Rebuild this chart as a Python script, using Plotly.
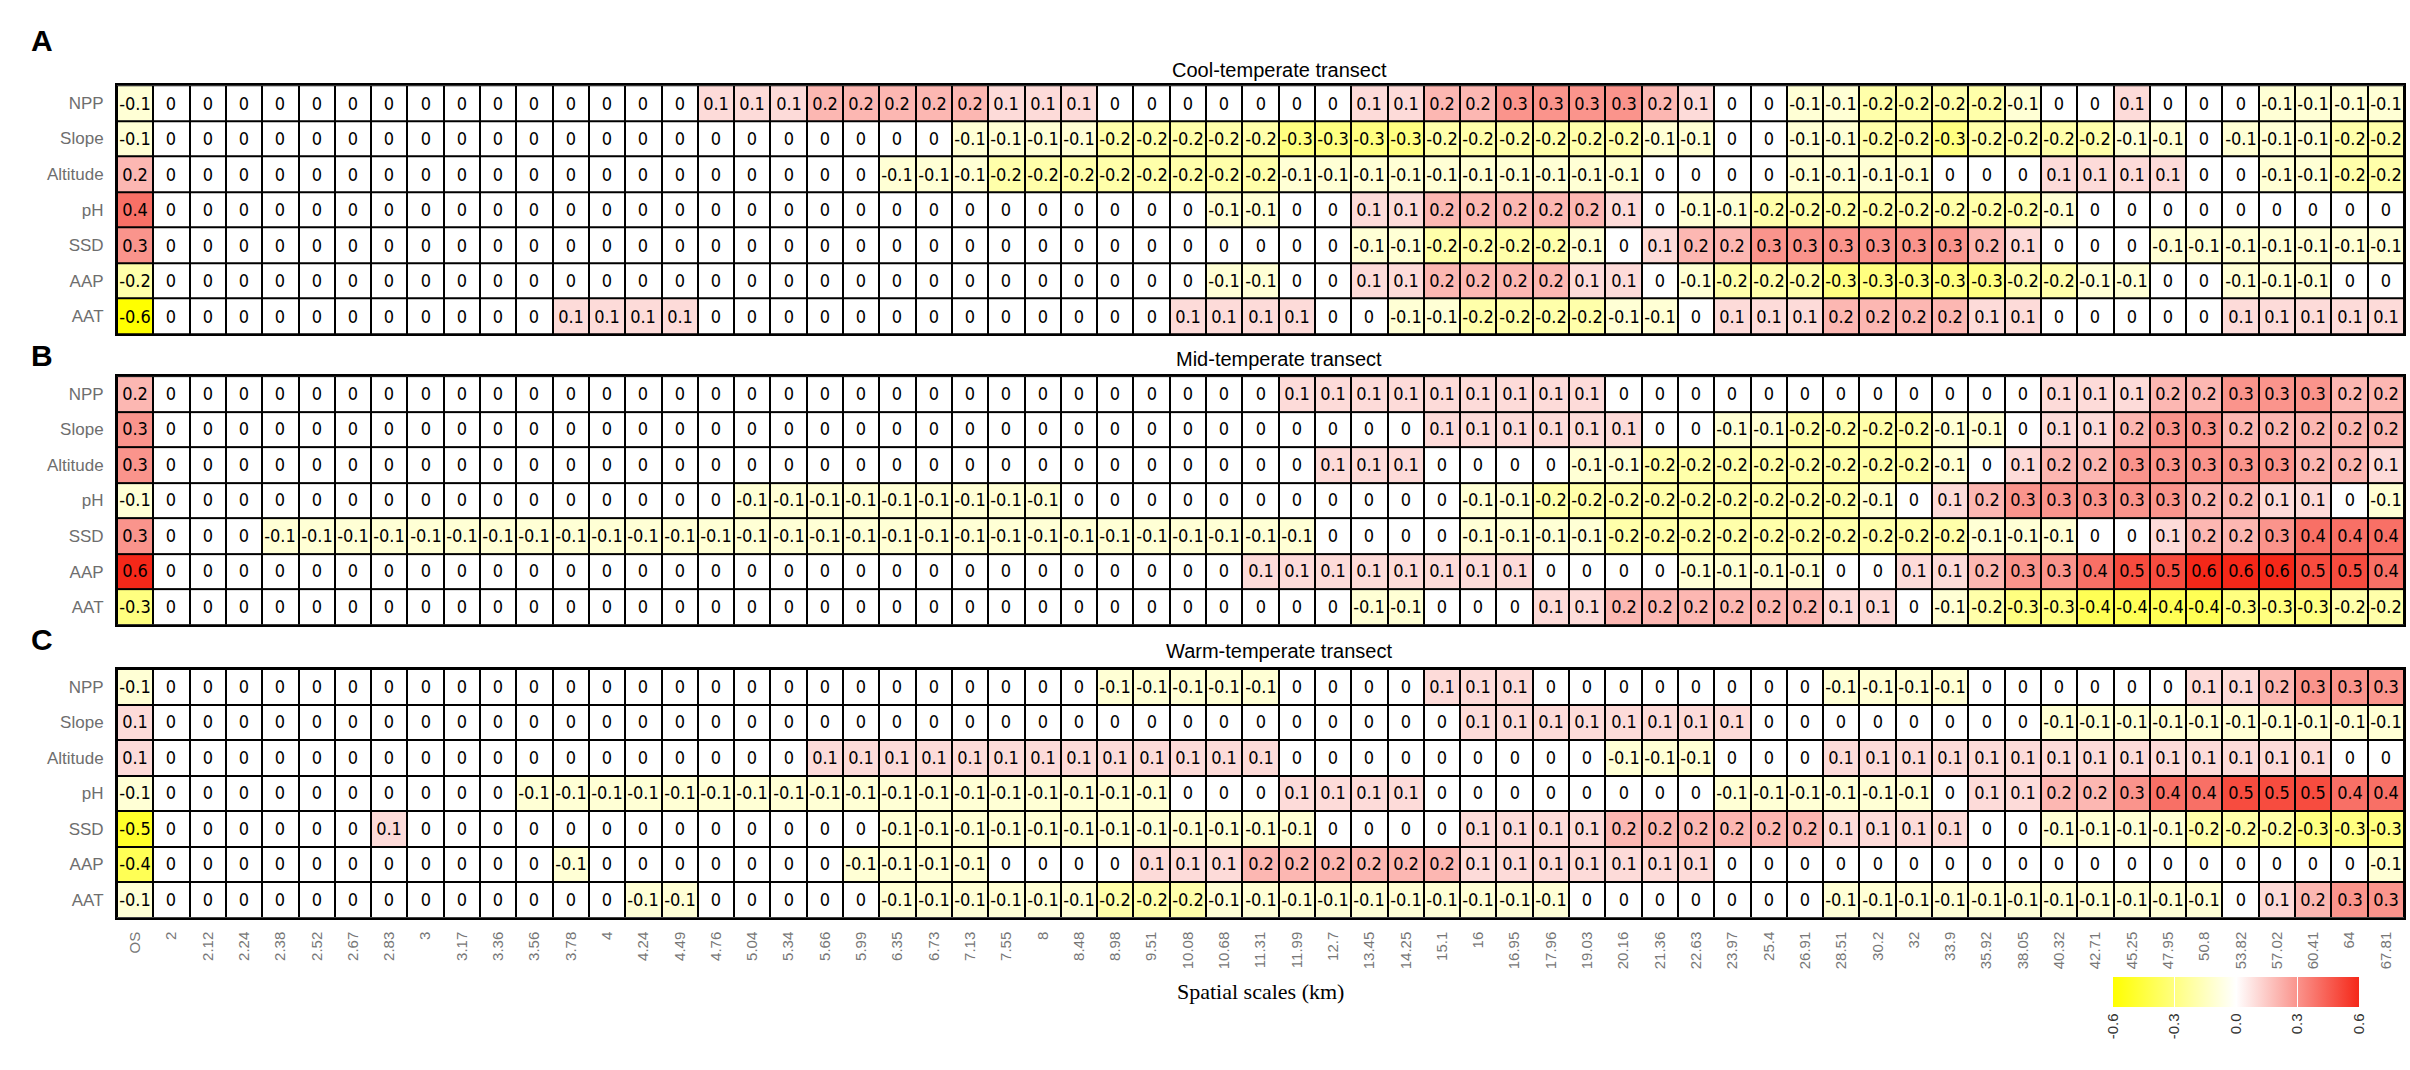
import plotly.graph_objects as go

scales = ["OS", "2", "2.12", "2.24", "2.38", "2.52", "2.67", "2.83", "3", "3.17",
          "3.36", "3.56", "3.78", "4", "4.24", "4.49", "4.76", "5.04", "5.34", "5.66",
          "5.99", "6.35", "6.73", "7.13", "7.55", "8", "8.48", "8.98", "9.51", "10.08",
          "10.68", "11.31", "11.99", "12.7", "13.45", "14.25", "15.1", "16", "16.95", "17.96",
          "19.03", "20.16", "21.36", "22.63", "23.97", "25.4", "26.91", "28.51", "30.2", "32",
          "33.9", "35.92", "38.05", "40.32", "42.71", "45.25", "47.95", "50.8", "53.82", "57.02",
          "60.41", "64", "67.81"]
variables = ["NPP", "Slope", "Altitude", "pH", "SSD", "AAP", "AAT"]

# cool-temperate transect
cool_npp = [
    -0.1, 0, 0, 0, 0, 0, 0, 0, 0, 0,
    0, 0, 0, 0, 0, 0, 0.1, 0.1, 0.1, 0.2,
    0.2, 0.2, 0.2, 0.2, 0.1, 0.1, 0.1, 0, 0, 0,
    0, 0, 0, 0, 0.1, 0.1, 0.2, 0.2, 0.3, 0.3,
    0.3, 0.3, 0.2, 0.1, 0, 0, -0.1, -0.1, -0.2, -0.2,
    -0.2, -0.2, -0.1, 0, 0, 0.1, 0, 0, 0, -0.1,
    -0.1, -0.1, -0.1]
cool_slope = [
    -0.1, 0, 0, 0, 0, 0, 0, 0, 0, 0,
    0, 0, 0, 0, 0, 0, 0, 0, 0, 0,
    0, 0, 0, -0.1, -0.1, -0.1, -0.1, -0.2, -0.2, -0.2,
    -0.2, -0.2, -0.3, -0.3, -0.3, -0.3, -0.2, -0.2, -0.2, -0.2,
    -0.2, -0.2, -0.1, -0.1, 0, 0, -0.1, -0.1, -0.2, -0.2,
    -0.3, -0.2, -0.2, -0.2, -0.2, -0.1, -0.1, 0, -0.1, -0.1,
    -0.1, -0.2, -0.2]
cool_alt = [
    0.2, 0, 0, 0, 0, 0, 0, 0, 0, 0,
    0, 0, 0, 0, 0, 0, 0, 0, 0, 0,
    0, -0.1, -0.1, -0.1, -0.2, -0.2, -0.2, -0.2, -0.2, -0.2,
    -0.2, -0.2, -0.1, -0.1, -0.1, -0.1, -0.1, -0.1, -0.1, -0.1,
    -0.1, -0.1, 0, 0, 0, 0, -0.1, -0.1, -0.1, -0.1,
    0, 0, 0, 0.1, 0.1, 0.1, 0.1, 0, 0, -0.1,
    -0.1, -0.2, -0.2]
cool_ph = [
    0.4, 0, 0, 0, 0, 0, 0, 0, 0, 0,
    0, 0, 0, 0, 0, 0, 0, 0, 0, 0,
    0, 0, 0, 0, 0, 0, 0, 0, 0, 0,
    -0.1, -0.1, 0, 0, 0.1, 0.1, 0.2, 0.2, 0.2, 0.2,
    0.2, 0.1, 0, -0.1, -0.1, -0.2, -0.2, -0.2, -0.2, -0.2,
    -0.2, -0.2, -0.2, -0.1, 0, 0, 0, 0, 0, 0,
    0, 0, 0]
cool_ssd = [
    0.3, 0, 0, 0, 0, 0, 0, 0, 0, 0,
    0, 0, 0, 0, 0, 0, 0, 0, 0, 0,
    0, 0, 0, 0, 0, 0, 0, 0, 0, 0,
    0, 0, 0, 0, -0.1, -0.1, -0.2, -0.2, -0.2, -0.2,
    -0.1, 0, 0.1, 0.2, 0.2, 0.3, 0.3, 0.3, 0.3, 0.3,
    0.3, 0.2, 0.1, 0, 0, 0, -0.1, -0.1, -0.1, -0.1,
    -0.1, -0.1, -0.1]
cool_aap = [
    -0.2, 0, 0, 0, 0, 0, 0, 0, 0, 0,
    0, 0, 0, 0, 0, 0, 0, 0, 0, 0,
    0, 0, 0, 0, 0, 0, 0, 0, 0, 0,
    -0.1, -0.1, 0, 0, 0.1, 0.1, 0.2, 0.2, 0.2, 0.2,
    0.1, 0.1, 0, -0.1, -0.2, -0.2, -0.2, -0.3, -0.3, -0.3,
    -0.3, -0.3, -0.2, -0.2, -0.1, -0.1, 0, 0, -0.1, -0.1,
    -0.1, 0, 0]
cool_aat = [
    -0.6, 0, 0, 0, 0, 0, 0, 0, 0, 0,
    0, 0, 0.1, 0.1, 0.1, 0.1, 0, 0, 0, 0,
    0, 0, 0, 0, 0, 0, 0, 0, 0, 0.1,
    0.1, 0.1, 0.1, 0, 0, -0.1, -0.1, -0.2, -0.2, -0.2,
    -0.2, -0.1, -0.1, 0, 0.1, 0.1, 0.1, 0.2, 0.2, 0.2,
    0.2, 0.1, 0.1, 0, 0, 0, 0, 0, 0.1, 0.1,
    0.1, 0.1, 0.1]

# mid-temperate transect
mid_npp = [
    0.2, 0, 0, 0, 0, 0, 0, 0, 0, 0,
    0, 0, 0, 0, 0, 0, 0, 0, 0, 0,
    0, 0, 0, 0, 0, 0, 0, 0, 0, 0,
    0, 0, 0.1, 0.1, 0.1, 0.1, 0.1, 0.1, 0.1, 0.1,
    0.1, 0, 0, 0, 0, 0, 0, 0, 0, 0,
    0, 0, 0, 0.1, 0.1, 0.1, 0.2, 0.2, 0.3, 0.3,
    0.3, 0.2, 0.2]
mid_slope = [
    0.3, 0, 0, 0, 0, 0, 0, 0, 0, 0,
    0, 0, 0, 0, 0, 0, 0, 0, 0, 0,
    0, 0, 0, 0, 0, 0, 0, 0, 0, 0,
    0, 0, 0, 0, 0, 0, 0.1, 0.1, 0.1, 0.1,
    0.1, 0.1, 0, 0, -0.1, -0.1, -0.2, -0.2, -0.2, -0.2,
    -0.1, -0.1, 0, 0.1, 0.1, 0.2, 0.3, 0.3, 0.2, 0.2,
    0.2, 0.2, 0.2]
mid_alt = [
    0.3, 0, 0, 0, 0, 0, 0, 0, 0, 0,
    0, 0, 0, 0, 0, 0, 0, 0, 0, 0,
    0, 0, 0, 0, 0, 0, 0, 0, 0, 0,
    0, 0, 0, 0.1, 0.1, 0.1, 0, 0, 0, 0,
    -0.1, -0.1, -0.2, -0.2, -0.2, -0.2, -0.2, -0.2, -0.2, -0.2,
    -0.1, 0, 0.1, 0.2, 0.2, 0.3, 0.3, 0.3, 0.3, 0.3,
    0.2, 0.2, 0.1]
mid_ph = [
    -0.1, 0, 0, 0, 0, 0, 0, 0, 0, 0,
    0, 0, 0, 0, 0, 0, 0, -0.1, -0.1, -0.1,
    -0.1, -0.1, -0.1, -0.1, -0.1, -0.1, 0, 0, 0, 0,
    0, 0, 0, 0, 0, 0, 0, -0.1, -0.1, -0.2,
    -0.2, -0.2, -0.2, -0.2, -0.2, -0.2, -0.2, -0.2, -0.1, 0,
    0.1, 0.2, 0.3, 0.3, 0.3, 0.3, 0.3, 0.2, 0.2, 0.1,
    0.1, 0, -0.1]
mid_ssd = [
    0.3, 0, 0, 0, -0.1, -0.1, -0.1, -0.1, -0.1, -0.1,
    -0.1, -0.1, -0.1, -0.1, -0.1, -0.1, -0.1, -0.1, -0.1, -0.1,
    -0.1, -0.1, -0.1, -0.1, -0.1, -0.1, -0.1, -0.1, -0.1, -0.1,
    -0.1, -0.1, -0.1, 0, 0, 0, 0, -0.1, -0.1, -0.1,
    -0.1, -0.2, -0.2, -0.2, -0.2, -0.2, -0.2, -0.2, -0.2, -0.2,
    -0.2, -0.1, -0.1, -0.1, 0, 0, 0.1, 0.2, 0.2, 0.3,
    0.4, 0.4, 0.4]
mid_aap = [
    0.6, 0, 0, 0, 0, 0, 0, 0, 0, 0,
    0, 0, 0, 0, 0, 0, 0, 0, 0, 0,
    0, 0, 0, 0, 0, 0, 0, 0, 0, 0,
    0, 0.1, 0.1, 0.1, 0.1, 0.1, 0.1, 0.1, 0.1, 0,
    0, 0, 0, -0.1, -0.1, -0.1, -0.1, 0, 0, 0.1,
    0.1, 0.2, 0.3, 0.3, 0.4, 0.5, 0.5, 0.6, 0.6, 0.6,
    0.5, 0.5, 0.4]
mid_aat = [
    -0.3, 0, 0, 0, 0, 0, 0, 0, 0, 0,
    0, 0, 0, 0, 0, 0, 0, 0, 0, 0,
    0, 0, 0, 0, 0, 0, 0, 0, 0, 0,
    0, 0, 0, 0, -0.1, -0.1, 0, 0, 0, 0.1,
    0.1, 0.2, 0.2, 0.2, 0.2, 0.2, 0.2, 0.1, 0.1, 0,
    -0.1, -0.2, -0.3, -0.3, -0.4, -0.4, -0.4, -0.4, -0.3, -0.3,
    -0.3, -0.2, -0.2]

# warm-temperate transect
warm_npp = [
    -0.1, 0, 0, 0, 0, 0, 0, 0, 0, 0,
    0, 0, 0, 0, 0, 0, 0, 0, 0, 0,
    0, 0, 0, 0, 0, 0, 0, -0.1, -0.1, -0.1,
    -0.1, -0.1, 0, 0, 0, 0, 0.1, 0.1, 0.1, 0,
    0, 0, 0, 0, 0, 0, 0, -0.1, -0.1, -0.1,
    -0.1, 0, 0, 0, 0, 0, 0, 0.1, 0.1, 0.2,
    0.3, 0.3, 0.3]
warm_slope = [
    0.1, 0, 0, 0, 0, 0, 0, 0, 0, 0,
    0, 0, 0, 0, 0, 0, 0, 0, 0, 0,
    0, 0, 0, 0, 0, 0, 0, 0, 0, 0,
    0, 0, 0, 0, 0, 0, 0, 0.1, 0.1, 0.1,
    0.1, 0.1, 0.1, 0.1, 0.1, 0, 0, 0, 0, 0,
    0, 0, 0, -0.1, -0.1, -0.1, -0.1, -0.1, -0.1, -0.1,
    -0.1, -0.1, -0.1]
warm_alt = [
    0.1, 0, 0, 0, 0, 0, 0, 0, 0, 0,
    0, 0, 0, 0, 0, 0, 0, 0, 0, 0.1,
    0.1, 0.1, 0.1, 0.1, 0.1, 0.1, 0.1, 0.1, 0.1, 0.1,
    0.1, 0.1, 0, 0, 0, 0, 0, 0, 0, 0,
    0, -0.1, -0.1, -0.1, 0, 0, 0, 0.1, 0.1, 0.1,
    0.1, 0.1, 0.1, 0.1, 0.1, 0.1, 0.1, 0.1, 0.1, 0.1,
    0.1, 0, 0]
warm_ph = [
    -0.1, 0, 0, 0, 0, 0, 0, 0, 0, 0,
    0, -0.1, -0.1, -0.1, -0.1, -0.1, -0.1, -0.1, -0.1, -0.1,
    -0.1, -0.1, -0.1, -0.1, -0.1, -0.1, -0.1, -0.1, -0.1, 0,
    0, 0, 0.1, 0.1, 0.1, 0.1, 0, 0, 0, 0,
    0, 0, 0, 0, -0.1, -0.1, -0.1, -0.1, -0.1, -0.1,
    0, 0.1, 0.1, 0.2, 0.2, 0.3, 0.4, 0.4, 0.5, 0.5,
    0.5, 0.4, 0.4]
warm_ssd = [
    -0.5, 0, 0, 0, 0, 0, 0, 0.1, 0, 0,
    0, 0, 0, 0, 0, 0, 0, 0, 0, 0,
    0, -0.1, -0.1, -0.1, -0.1, -0.1, -0.1, -0.1, -0.1, -0.1,
    -0.1, -0.1, -0.1, 0, 0, 0, 0, 0.1, 0.1, 0.1,
    0.1, 0.2, 0.2, 0.2, 0.2, 0.2, 0.2, 0.1, 0.1, 0.1,
    0.1, 0, 0, -0.1, -0.1, -0.1, -0.1, -0.2, -0.2, -0.2,
    -0.3, -0.3, -0.3]
warm_aap = [
    -0.4, 0, 0, 0, 0, 0, 0, 0, 0, 0,
    0, 0, -0.1, 0, 0, 0, 0, 0, 0, 0,
    -0.1, -0.1, -0.1, -0.1, 0, 0, 0, 0, 0.1, 0.1,
    0.1, 0.2, 0.2, 0.2, 0.2, 0.2, 0.2, 0.1, 0.1, 0.1,
    0.1, 0.1, 0.1, 0.1, 0, 0, 0, 0, 0, 0,
    0, 0, 0, 0, 0, 0, 0, 0, 0, 0,
    0, 0, -0.1]
warm_aat = [
    -0.1, 0, 0, 0, 0, 0, 0, 0, 0, 0,
    0, 0, 0, 0, -0.1, -0.1, 0, 0, 0, 0,
    0, -0.1, -0.1, -0.1, -0.1, -0.1, -0.1, -0.2, -0.2, -0.2,
    -0.1, -0.1, -0.1, -0.1, -0.1, -0.1, -0.1, -0.1, -0.1, -0.1,
    0, 0, 0, 0, 0, 0, 0, -0.1, -0.1, -0.1,
    -0.1, -0.1, -0.1, -0.1, -0.1, -0.1, -0.1, -0.1, 0, 0.1,
    0.2, 0.3, 0.3]

panels = [
    ("A", "Cool-temperate transect",
     [cool_npp, cool_slope, cool_alt, cool_ph, cool_ssd, cool_aap, cool_aat]),
    ("B", "Mid-temperate transect",
     [mid_npp, mid_slope, mid_alt, mid_ph, mid_ssd, mid_aap, mid_aat]),
    ("C", "Warm-temperate transect",
     [warm_npp, warm_slope, warm_alt, warm_ph, warm_ssd, warm_aap, warm_aat]),
]

W, H = 2410, 1070
SANS = "Arial, Liberation Sans, sans-serif"
CELL_FONT = "Liberation Sans Narrow, Arial Narrow, DejaVu Sans Condensed, Liberation Sans, sans-serif"

# pixel layout of the three grids (top, bottom)
grid_left, grid_right = 117, 2404
grid_rows = [(87, 341), (384, 638), (683, 937)]
title_y = [71, 367, 665]
letter_y = [41, 363, 653]


def cell_text(v):
    return "0" if v == 0 else f"{v:g}"


fig = go.Figure()
annotations = []
for i, (letter, title, rows) in enumerate(panels):
    for r in rows:
        assert len(r) == len(scales)
    n = "" if i == 0 else str(i + 1)
    fig.add_trace(go.Heatmap(
        z=rows, x=scales, y=variables,
        text=[[cell_text(v) for v in r] for r in rows],
        texttemplate="%{text}",
        textfont=dict(family=CELL_FONT, size=18, color="black"),
        coloraxis="coloraxis", xgap=2, ygap=2,
        xaxis="x" + n, yaxis="y" + n,
        hovertemplate="%{y} @ %{x}: %{z}<extra></extra>",
    ))
    top, bot = grid_rows[i]
    fig.layout["xaxis" + n] = dict(
        domain=[grid_left / W, grid_right / W], anchor="y" + n,
        type="category", showticklabels=(i == 2), tickangle=-90, ticks="",
        ticklabelstandoff=6, tickfont=dict(family=SANS, size=15, color="#777"),
        showline=True, mirror=True, linecolor="black", linewidth=2,
        showgrid=False, zeroline=False,
    )
    fig.layout["yaxis" + n] = dict(
        domain=[1 - bot / H, 1 - top / H], anchor="x" + n,
        type="category", autorange="reversed", ticks="", ticklabelstandoff=8,
        tickfont=dict(family=SANS, size=17, color="#6e6e6e"),
        showline=True, mirror=True, linecolor="black", linewidth=2,
        showgrid=False, zeroline=False,
    )
    annotations.append(dict(
        text=title, x=1279 / W, y=1 - title_y[i] / H, xref="paper", yref="paper",
        showarrow=False, xanchor="center", yanchor="middle",
        font=dict(family=SANS, size=20, color="black")))
    annotations.append(dict(
        text="<b>%s</b>" % letter, x=42 / W, y=1 - letter_y[i] / H,
        xref="paper", yref="paper", showarrow=False,
        xanchor="center", yanchor="middle",
        font=dict(family=SANS, size=30, color="black")))

annotations.append(dict(
    text="Spatial scales (km)", x=1260 / W, y=1 - 1012 / H,
    xref="paper", yref="paper", showarrow=False, xanchor="center", yanchor="middle",
    font=dict(family="Times New Roman, Liberation Serif, serif", size=22, color="black")))

fig.update_layout(
    width=W, height=H,
    margin=dict(l=0, r=0, t=0, b=0),
    paper_bgcolor="white", plot_bgcolor="black",
    annotations=annotations,
    coloraxis=dict(
        cmin=-0.6, cmax=0.6,
        colorscale=[[0, "rgb(255,255,0)"], [0.5, "rgb(255,255,255)"], [1, "rgb(245,40,25)"]],
        colorbar=dict(
            orientation="h", x=2236 / W, xanchor="center",
            y=1 - 998 / H, yanchor="top", ypad=0, xpad=0,
            lenmode="pixels", len=246, thickness=30, outlinewidth=0,
            tickvals=[-0.6, -0.3, 0, 0.3, 0.6],
            ticktext=["-0.6", "-0.3", "0.0", "0.3", "0.6"],
            tickangle=-90, ticks="inside", ticklen=30, tickcolor="white", tickwidth=1,
            tickfont=dict(family=SANS, size=15, color="#333"),
        ),
    ),
    showlegend=False,
)

fig.write_html("out.html", config={"displayModeBar": False},
               post_script="document.body.style.margin='0';document.body.style.overflow='hidden';")
